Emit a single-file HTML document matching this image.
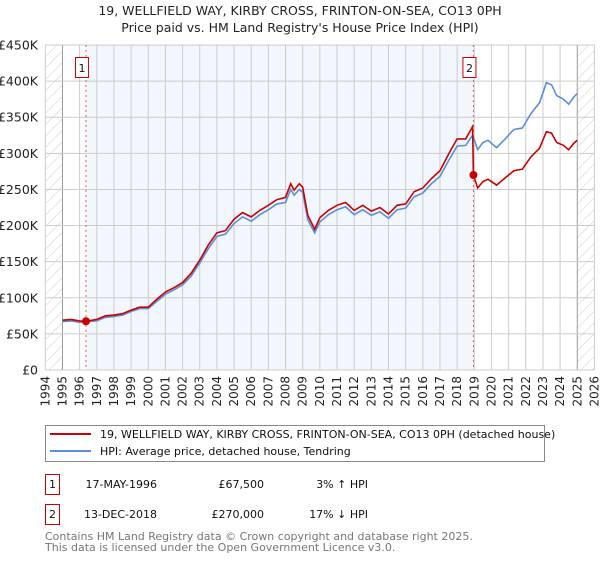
<!DOCTYPE html>
<html><head><meta charset="utf-8"><style>
body{margin:0;background:#fff;font-family:"Liberation Sans","DejaVu Sans",sans-serif;}
svg text{font-family:"DejaVu Sans","Liberation Sans",sans-serif;}
</style></head><body>
<svg id="chart" width="600" height="560" xmlns="http://www.w3.org/2000/svg">
<defs><pattern id="hatch" patternUnits="userSpaceOnUse" width="8" height="8" patternTransform="rotate(45)"><line x1="0" y1="0" x2="0" y2="8" stroke="#ccc" stroke-width="1"/></pattern></defs>
<text x="300" y="15" text-anchor="middle" font-size="12.5" fill="#222">19, WELLFIELD WAY, KIRBY CROSS, FRINTON-ON-SEA, CO13 0PH</text>
<text x="300" y="32" text-anchor="middle" font-size="12.5" fill="#222">Price paid vs. HM Land Registry's House Price Index (HPI)</text>
<g id="plot"></g>
<g>
<rect x="45.5" y="425.5" width="499" height="36" fill="#fff" stroke="#888"/>
<line x1="50" y1="434" x2="91" y2="434" stroke="#cc0000" stroke-width="2"/>
<text x="100" y="438" font-size="11" fill="#111">19, WELLFIELD WAY, KIRBY CROSS, FRINTON-ON-SEA, CO13 0PH (detached house)</text>
<line x1="50" y1="451" x2="91" y2="451" stroke="#5b8fd6" stroke-width="2"/>
<text x="100" y="455" font-size="11" fill="#111">HPI: Average price, detached house, Tendring</text>
</g>
<g font-size="11" fill="#111">
<rect x="45.5" y="474.5" width="14" height="20" fill="#fff" stroke="#cc0000"/>
<text x="52.5" y="488" text-anchor="middle">1</text>
<text x="157" y="488" text-anchor="end">17-MAY-1996</text>
<text x="264" y="488" text-anchor="end">£67,500</text>
<text x="368" y="488" text-anchor="end">3% ↑ HPI</text>
</g>
<g font-size="11" fill="#111">
<rect x="45.5" y="504.5" width="14" height="20" fill="#fff" stroke="#cc0000"/>
<text x="52.5" y="518" text-anchor="middle">2</text>
<text x="157" y="518" text-anchor="end">13-DEC-2018</text>
<text x="264" y="518" text-anchor="end">£270,000</text>
<text x="368" y="518" text-anchor="end">17% ↓ HPI</text>
</g>
<text x="45" y="540" font-size="11" fill="#777">Contains HM Land Registry data © Crown copyright and database right 2025.</text>
<text x="45" y="551" font-size="11" fill="#777">This data is licensed under the Open Government Licence v3.0.</text>
</svg>
<script>
const years=[1994,1995,1996,1997,1998,1999,2000,2001,2002,2003,2004,2005,2006,2007,2008,2009,2010,2011,2012,2013,2014,2015,2016,2017,2018,2019,2020,2021,2022,2023,2024,2025,2026];
const yTicks=[0,50000,100000,150000,200000,250000,300000,350000,400000,450000];
const yTickLabels=["£0","£50K","£100K","£150K","£200K","£250K","£300K","£350K","£400K","£450K"];
const hpiT=[1995.0,1995.5,1996.0,1996.5,1997.0,1997.5,1998.0,1998.5,1999.0,1999.5,2000.0,2000.5,2001.0,2001.5,2002.0,2002.5,2003.0,2003.5,2004.0,2004.5,2005.0,2005.5,2006.0,2006.5,2007.0,2007.5,2008.0,2008.3,2008.5,2008.8,2009.0,2009.3,2009.7,2010.0,2010.5,2011.0,2011.5,2012.0,2012.5,2013.0,2013.5,2014.0,2014.5,2015.0,2015.5,2016.0,2016.5,2017.0,2017.5,2018.0,2018.5,2018.9,2019.2,2019.5,2019.8,2020.3,2020.8,2021.3,2021.8,2022.3,2022.8,2023.2,2023.5,2023.8,2024.2,2024.5,2024.8,2025.0];
const hpiV=[67,68,66,67,68,73,74,76,81,85,85,95,105,111,118,130,148,168,185,188,203,212,206,215,222,230,232,250,242,250,246,208,190,205,215,222,226,215,222,214,219,210,222,224,240,245,258,268,290,310,311,325,305,315,318,308,320,333,335,355,370,398,395,380,375,368,378,383];
const redT=[1995.0,1995.5,1996.0,1996.37,1997.0,1997.5,1998.0,1998.5,1999.0,1999.5,2000.0,2000.5,2001.0,2001.5,2002.0,2002.5,2003.0,2003.5,2004.0,2004.5,2005.0,2005.5,2006.0,2006.5,2007.0,2007.5,2008.0,2008.3,2008.5,2008.8,2009.0,2009.3,2009.7,2010.0,2010.5,2011.0,2011.5,2012.0,2012.5,2013.0,2013.5,2014.0,2014.5,2015.0,2015.5,2016.0,2016.5,2017.0,2017.5,2018.0,2018.5,2018.9,2018.95,2019.2,2019.5,2019.8,2020.3,2020.8,2021.3,2021.8,2022.3,2022.8,2023.2,2023.5,2023.8,2024.2,2024.5,2024.8,2025.0];
const redV=[69,70,68,67.5,70,75,76,78,83,87,87,98,108,114,121,134,152,173,190,193,209,218,212,221,228,236,239,258,249,258,253,214,195,211,221,228,232,221,228,220,225,216,228,230,247,252,265,276,299,320,320,337,270,252,261,264,256,266,276,278,295,307,330,328,315,311,305,314,318];
const sales=[{t:1996.37,v:67500,label:"1"},{t:2018.95,v:270000,label:"2"}];
const X0=45.3,PX=17.16,YB=370,YT=45;
function xs(t){return X0+(t-1994)*PX;}
function ys(v){return YB-(v/450000)*(YB-YT);}
const NS="http://www.w3.org/2000/svg";
const g=document.getElementById('plot');
function mk(tag,attrs,parent){const e=document.createElementNS(NS,tag);for(const k in attrs)e.setAttribute(k,attrs[k]);(parent||g).appendChild(e);return e;}
const shade=mk('rect',{x:xs(sales[0].t),y:YT,width:xs(sales[1].t)-xs(sales[0].t),height:YB-YT,fill:'#f2f6fd'});


const h1=mk('rect',{x:xs(1994),y:YT,width:xs(1995)-xs(1994),height:YB-YT,fill:'url(#hatch)'});


const h2=mk('rect',{x:xs(2025),y:YT,width:xs(2026)-xs(2025),height:YB-YT,fill:'url(#hatch)'});


years.forEach(y=>{const l=mk('line',{x1:xs(y),x2:xs(y),y1:YT,y2:YB,stroke:(y==1995||y==2025)?'#999':'#ccc','stroke-width':1});


const t=mk('text',{x:0,y:0,'font-size':12,fill:'#222','text-anchor':'end',transform:`translate(${xs(y)+4},${YB+6}) rotate(-90)`});
t.textContent=y;

});
yTicks.forEach((v,i)=>{const l=mk('line',{x1:xs(1994),x2:xs(2026),y1:ys(v),y2:ys(v),stroke:'#ccc','stroke-width':1});


const t=mk('text',{x:38,y:ys(v)+4.5,'font-size':12.5,fill:'#222','text-anchor':'end'});
t.textContent=yTickLabels[i];

});
sales.forEach(s=>{const l=mk('line',{x1:xs(s.t),x2:xs(s.t),y1:YT,y2:YB,stroke:'#e06060','stroke-width':1,'stroke-dasharray':'2,3'});


const r=mk('rect',{x:xs(s.t)-10.5,y:57.5,width:13,height:20,fill:'#fff',stroke:'#cc0000'});


const t=mk('text',{x:xs(s.t)-4,y:72,'font-size':11,'text-anchor':'middle',fill:'#111'});
t.textContent=s.label;

});
function path(T,V){return T.map((t,i)=>(i?'L':'M')+xs(t).toFixed(1)+','+ys(V[i]*1000).toFixed(1)).join('');}
const hp=mk('path',{d:path(hpiT,hpiV),fill:'none',stroke:'#5b8fd6','stroke-width':1.6});


const rp=mk('path',{d:path(redT,redV),fill:'none',stroke:'#cc0000','stroke-width':1.6});


sales.forEach(s=>{const c=mk('circle',{cx:xs(s.t),cy:ys(s.v),r:4,fill:'#cc0000'});

});
</script>
</body></html>
